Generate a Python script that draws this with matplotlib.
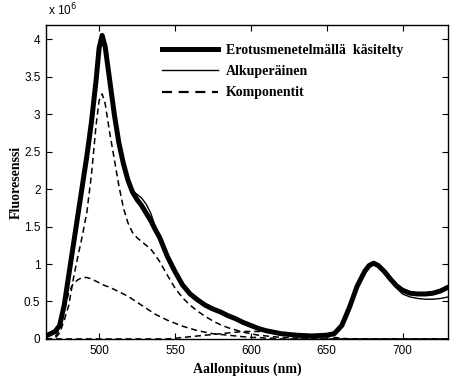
import matplotlib
matplotlib.use('Agg')
import matplotlib.pyplot as plt
from matplotlib.lines import Line2D

# aallonpituudet (nm)
wl = [465, 468, 471, 474, 477, 480, 483, 486, 489, 492, 495, 498, 500, 502, 504,
      507, 510, 513, 516, 519, 522, 525, 528, 531, 534, 537, 540, 545, 550, 555,
      560, 565, 570, 575, 580, 585, 590, 595, 600, 605, 610, 615, 620, 630, 640,
      650, 655, 660, 665, 670, 675, 678, 681, 684, 688, 692, 696, 700, 705, 710,
      715, 720, 725, 730]

# fluoresenssi, yksikkö 10^6
kasitelty = [0.04, 0.07, 0.10, 0.18, 0.45, 0.85, 1.25, 1.65, 2.05, 2.45, 2.90, 3.45, 3.88, 4.05, 3.90,
             3.45, 3.00, 2.62, 2.34, 2.12, 1.96, 1.86, 1.78, 1.68, 1.58, 1.46, 1.35, 1.10, 0.90, 0.72,
             0.60, 0.52, 0.45, 0.40, 0.36, 0.31, 0.27, 0.22, 0.18, 0.14, 0.11, 0.09, 0.07, 0.05, 0.04,
             0.05, 0.07, 0.18, 0.42, 0.70, 0.90, 0.98, 1.01, 0.98, 0.90, 0.80, 0.71, 0.65, 0.61, 0.60,
             0.60, 0.61, 0.64, 0.69]

alkuperainen = [0.04, 0.07, 0.10, 0.18, 0.45, 0.85, 1.25, 1.65, 2.05, 2.45, 2.90, 3.45, 3.88, 4.05, 3.90,
                3.45, 3.00, 2.62, 2.34, 2.12, 1.98, 1.93, 1.88, 1.80, 1.68, 1.50, 1.36, 1.10, 0.90, 0.72,
                0.60, 0.52, 0.45, 0.40, 0.36, 0.31, 0.27, 0.22, 0.18, 0.14, 0.11, 0.09, 0.07, 0.05, 0.04,
                0.05, 0.07, 0.18, 0.42, 0.70, 0.90, 0.98, 1.01, 0.98, 0.90, 0.78, 0.68, 0.60, 0.56, 0.54,
                0.53, 0.53, 0.54, 0.56]

komp1 = [0.00, 0.00, 0.01, 0.08, 0.25, 0.45, 0.80, 1.10, 1.38, 1.70, 2.20, 2.85, 3.18, 3.27, 3.14,
         2.75, 2.40, 2.05, 1.75, 1.55, 1.42, 1.35, 1.30, 1.25, 1.20, 1.12, 1.03, 0.85, 0.68, 0.55,
         0.45, 0.37, 0.30, 0.24, 0.19, 0.15, 0.12, 0.09, 0.07, 0.05, 0.04, 0.03, 0.02, 0.01, 0.00,
         0.00, 0.00, 0.00, 0.00, 0.00, 0.00, 0.00, 0.00, 0.00, 0.00, 0.00, 0.00, 0.00, 0.00, 0.00,
         0.00, 0.00, 0.00, 0.00]

komp2 = [0.00, 0.00, 0.03, 0.12, 0.38, 0.62, 0.74, 0.79, 0.82, 0.82, 0.80, 0.77, 0.75, 0.73, 0.71,
         0.69, 0.66, 0.63, 0.60, 0.57, 0.53, 0.49, 0.45, 0.41, 0.37, 0.33, 0.30, 0.25, 0.21, 0.17,
         0.14, 0.11, 0.09, 0.07, 0.06, 0.05, 0.04, 0.03, 0.02, 0.02, 0.01, 0.01, 0.00, 0.00, 0.00,
         0.00, 0.00, 0.00, 0.00, 0.00, 0.00, 0.00, 0.00, 0.00, 0.00, 0.00, 0.00, 0.00, 0.00, 0.00,
         0.00, 0.00, 0.00, 0.00]

komp3 = [0.00, 0.00, 0.00, 0.00, 0.00, 0.00, 0.00, 0.00, 0.00, 0.00, 0.00, 0.00, 0.00, 0.00, 0.00,
         0.00, 0.00, 0.00, 0.00, 0.00, 0.00, 0.00, 0.00, 0.00, 0.00, 0.00, 0.00, 0.00, 0.01, 0.02,
         0.03, 0.04, 0.05, 0.06, 0.07, 0.08, 0.09, 0.10, 0.10, 0.10, 0.10, 0.10, 0.09, 0.07, 0.05,
         0.03, 0.02, 0.01, 0.00, 0.00, 0.00, 0.00, 0.00, 0.00, 0.00, 0.00, 0.00, 0.00, 0.00, 0.00,
         0.00, 0.00, 0.00, 0.00]

labels = ['Erotusmenetelmällä  käsitelty', 'Alkuperäinen', 'Komponentit']
x_ticks = [500, 550, 600, 650, 700]
y_ticks = [0, 0.5, 1, 1.5, 2, 2.5, 3, 3.5, 4]

serif = ['Liberation Serif', 'DejaVu Serif']
sans = ['Liberation Sans', 'DejaVu Sans']

fig = plt.figure(figsize=(4.6, 3.83), dpi=100)
ax = fig.add_axes([0.1, 0.115, 0.874, 0.82])

dash = (0, (4, 2.5))
ax.plot(wl, kasitelty, color='black', lw=3.6, solid_capstyle='round', solid_joinstyle='round')
ax.plot(wl, alkuperainen, color='black', lw=1.0)
ax.plot(wl, komp1, color='black', lw=1.1, linestyle=dash)
ax.plot(wl, komp2, color='black', lw=1.1, linestyle=dash)
ax.plot(wl, komp3, color='black', lw=1.1, linestyle=dash)

ax.set_xlim(465, 730)
ax.set_ylim(0, 4.19)
ax.set_xticks(x_ticks)
ax.set_yticks(y_ticks)
ax.set_yticklabels(['%g' % v for v in y_ticks])
ax.tick_params(direction='in', top=True, right=True, length=4, width=0.8,
               labelsize=8.5, pad=4)
for lab in ax.get_xticklabels() + ax.get_yticklabels():
    lab.set_family(sans)
for s in ax.spines.values():
    s.set_linewidth(1.0)

ax.text(0.005, 1.02, r'x 10$^6$', transform=ax.transAxes, fontsize=8.5,
        family=sans, ha='left', va='bottom')

ax.set_xlabel('Aallonpituus (nm)', family=serif, fontweight='bold', fontsize=10, labelpad=4)
ax.set_ylabel('Fluoresenssi', family=serif, fontweight='bold', fontsize=10, labelpad=1)

# legendan viivat (katkoviiva pidemmillä katkoilla kuin kuvaajassa)
handles = [Line2D([], [], color='black', lw=3.6),
           Line2D([], [], color='black', lw=1.0),
           Line2D([], [], color='black', lw=1.6, linestyle=(0, (4.5, 3)))]
ax.legend(handles, labels, loc='upper left', bbox_to_anchor=(0.289, 0.94), frameon=False,
          borderpad=0, borderaxespad=0, handlelength=4.0, handletextpad=0.6,
          labelspacing=0.6, prop={'family': serif, 'weight': 'bold', 'size': 10})

fig.savefig('out.png', dpi=100)
